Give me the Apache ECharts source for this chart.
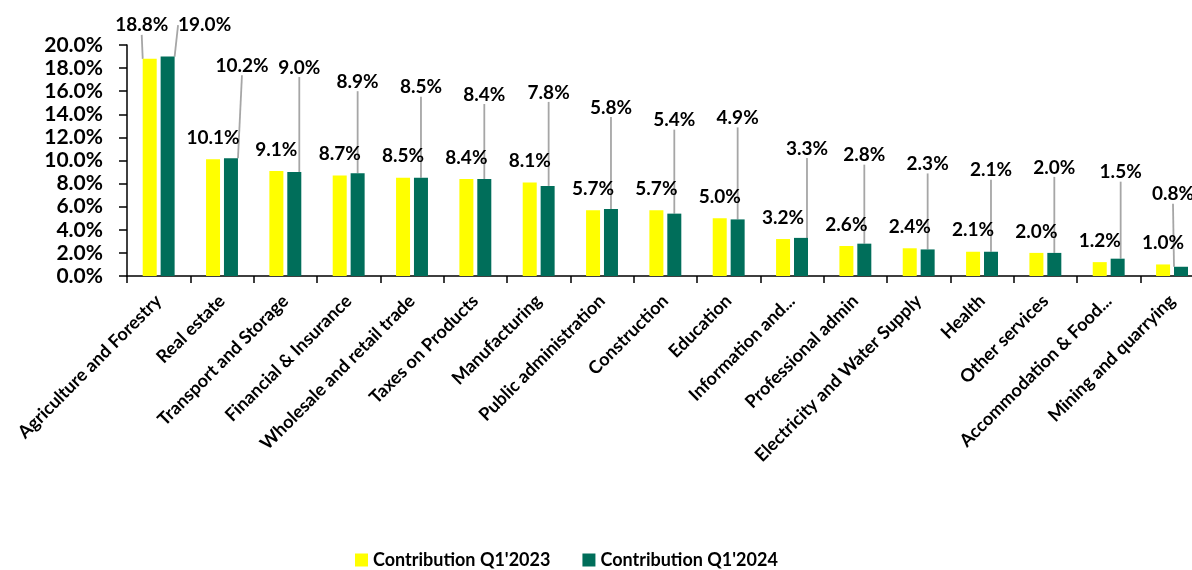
<!DOCTYPE html>
<html>
<head>
<meta charset="utf-8">
<script src="https://cdn.jsdelivr.net/npm/echarts@6/dist/echarts.min.js"></script>
<style>
html,body{margin:0;padding:0;background:#fff;}
#chart{width:1192px;height:570px;}
</style>
</head>
<body>
<div id="chart"></div>
<script>
const categories = ["Agriculture and Forestry","Real estate","Transport and Storage","Financial & Insurance","Wholesale and retail trade","Taxes on Products","Manufacturing","Public administration","Construction","Education","Information and...","Professional admin","Electricity and Water Supply","Health","Other services","Accommodation & Food...","Mining and quarrying"];
const q2023 = [18.8,10.1,9.1,8.7,8.5,8.4,8.1,5.7,5.7,5.0,3.2,2.6,2.4,2.1,2.0,1.2,1.0];
const q2024 = [19.0,10.2,9.0,8.9,8.5,8.4,7.8,5.8,5.4,4.9,3.3,2.8,2.3,2.1,2.0,1.5,0.8];
const seriesNames = ["Contribution Q1'2023","Contribution Q1'2024"];
const yTicks = [0,2,4,6,8,10,12,14,16,18,20];

const FONT = 'Lato';
// label shifts (layout only)
const greenShift = [[37,-17],[11,-78],[5,-90],[0,-77],[0,-76],[0,-70],[1,-79],[0,-87],[0,-79],[0,-87],[6,-75],[0,-74],[0,-71],[0,-67],[0,-71],[3,-72],[-8,-58]];
const lineStyle = {color:'#a6a6a6', width:1.8};

const chart = echarts.init(document.getElementById('chart'));
chart.setOption({
  animation:false,
  textStyle:{fontFamily:FONT},
  grid:{left:127, top:45, width:1076.7, height:231, outerBoundsMode:'none', containLabel:false},
  legend:{
    left:350, top:546, itemWidth:13, itemHeight:13, itemGap:32,
    icon:'rect',
    textStyle:{fontFamily:FONT, fontWeight:'bold', fontSize:18, color:'#000'},
    data:seriesNames
  },
  xAxis:{
    type:'category', data:categories,
    axisLine:{lineStyle:{color:'#000', width:1.5}},
    axisTick:{show:true, length:7, lineStyle:{color:'#000', width:1.5}},
    axisLabel:{rotate:45, interval:0, margin:22, fontFamily:FONT, fontWeight:'bold', fontSize:18, color:'#000'}
  },
  yAxis:{
    type:'value', min:yTicks[0], max:yTicks[yTicks.length-1], interval:2,
    splitLine:{show:false},
    axisLine:{show:true, lineStyle:{color:'#000', width:1.5}},
    axisTick:{show:true, length:8, lineStyle:{color:'#000', width:1.5}},
    axisLabel:{margin:24, fontFamily:FONT, fontWeight:'bold', fontSize:21, color:'#000',
      formatter:v=>v.toFixed(1)+'%'}
  },
  series:[
    {
      name:seriesNames[0], type:'bar', barWidth:14, barGap:'28%',
      itemStyle:{color:'#FFFF00'},
      data:q2023.map((v,i)=> i===0 ? {value:v, labelLine:{show:true, lineStyle:lineStyle}} : v),
      label:{show:true, position:'top', distance:12, formatter:p=>p.value.toFixed(1)+'%',
        fontFamily:FONT, fontWeight:'bold', fontSize:19, color:'#000'},
      labelLayout:function(p){ return p.dataIndex===0 ? {dx:-8, dy:-12} : {}; }
    },
    {
      name:seriesNames[1], type:'bar', barWidth:14,
      itemStyle:{color:'#006E5A'},
      data:q2024,
      label:{show:true, position:'top', distance:5, formatter:p=>p.value.toFixed(1)+'%',
        fontFamily:FONT, fontWeight:'bold', fontSize:19, color:'#000'},
      labelLine:{show:true, lineStyle:lineStyle},
      labelLayout:function(p){ const s = greenShift[p.dataIndex]; return {dx:s[0], dy:s[1]}; }
    }
  ]
});
</script>
</body>
</html>
